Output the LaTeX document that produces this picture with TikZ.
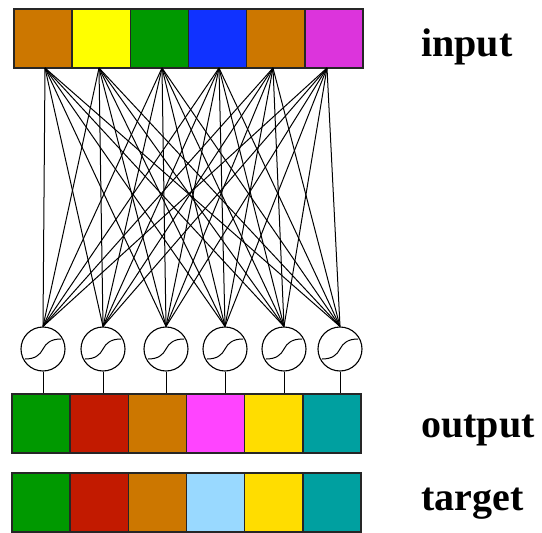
\documentclass[tikz,border=0pt]{standalone}
\usepackage{fontspec}
\setmainfont{Liberation Serif}
\definecolor{nnOrange}{RGB}{204,119,0}
\definecolor{nnYellow}{RGB}{255,255,0}
\definecolor{nnGreen}{RGB}{0,153,0}
\definecolor{nnBlue}{RGB}{16,50,255}
\definecolor{nnMagenta}{RGB}{220,52,220}
\definecolor{nnRed}{RGB}{194,26,0}
\definecolor{nnPink}{RGB}{255,68,255}
\definecolor{nnGold}{RGB}{255,221,0}
\definecolor{nnTeal}{RGB}{0,160,160}
\definecolor{nnSky}{RGB}{153,217,255}

\begin{document}
\begin{tikzpicture}[
  x=1pt, y=-1pt,
  cell/.style={draw=black!85, fill=#1, line width=1.4pt, inner sep=0pt,
               minimum width=58.2pt, minimum height=59pt},
  unit/.style={circle, draw, fill=white, line width=1.1pt,
               minimum size=44pt, inner sep=0pt},
  wire/.style={line width=1pt},
  lab/.style={anchor=base west, inner sep=0pt,
              font=\fontsize{40}{41}\selectfont\bfseries},
]
\useasboundingbox (0,0) rectangle (542,533);
\def\cw{58.17}

% three rows of colour cells
\foreach \c [count=\i] in {nnOrange,nnYellow,nnGreen,nnBlue,nnOrange,nnMagenta}
  \node[cell=\c] (in\i) at ({14+(\i-0.5)*\cw},38.5) {};
\foreach \c [count=\i] in {nnGreen,nnRed,nnOrange,nnPink,nnGold,nnTeal}
  \node[cell=\c] (out\i) at ({12+(\i-0.5)*\cw},423.5) {};
\foreach \c [count=\i] in {nnGreen,nnRed,nnOrange,nnSky,nnGold,nnTeal}
  \node[cell=\c] (tgt\i) at ({12+(\i-0.5)*\cw},502.5) {};

% taps under the input row
\foreach \x [count=\i] in {45,99,162,219,273,327}
  \coordinate (tap\i) at (\x,68);

% sigmoid units
\foreach \x [count=\j] in {43,103,166,225,284,340} {
  \node[unit] (h\j) at (\x,349) {};
  \draw[wire] ([shift={(-18,10)}]h\j.center)
    .. controls +(10,0) and +(-3,6) .. (h\j.center)
    .. controls +(3,-6) and +(-10,0) .. ([shift={(18,-10)}]h\j.center);
  \draw[wire] (h\j.south) -- (h\j.south |- out1.north);
}

% full connection input -> units
\foreach \i in {1,...,6}
  \foreach \j in {1,...,6}
    \draw[wire] (tap\i) -- (h\j.north);

\node[lab] (inlab) at (421,56) {input};
\node[lab] (outlab) at (421,437) {output};
\node[lab] (tgtlab) at (421,510) {target};
\end{tikzpicture}
\end{document}
